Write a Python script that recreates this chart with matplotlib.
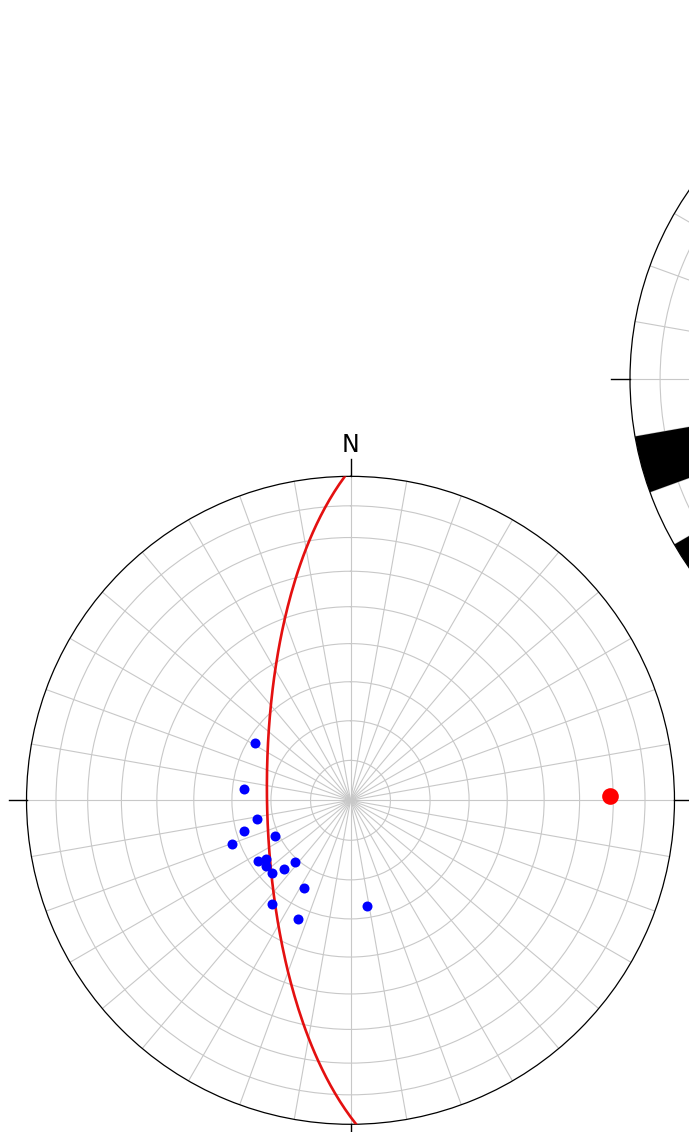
import numpy as np
import matplotlib
matplotlib.use('Agg')
import matplotlib.pyplot as plt

# poles (trend, plunge in degrees)
pole_trend = [301, 276, 259, 254, 250, 245, 237, 235, 232, 227, 224, 222, 208, 217, 204, 171]
pole_plunge = [62, 63, 66, 62, 58, 69, 62, 64, 63, 63, 66, 69, 65, 57, 57, 63]

# best-fit plane (dip direction / dip) and its pole
plane_dipdir = 269
plane_dip = 69
fit_pole_trend = [89]
fit_pole_plunge = [21]

# rose diagram: 10 degree bins (start azimuth) and counts
rose_bins = [170, 200, 210, 220, 230, 240, 250, 270, 300]
rose_counts = [1, 2, 1, 3, 3, 1, 3, 1, 1]

grid_col = '#c8c8c8'


def eq_area(plunge):
    # radial distance of a line in a lower-hemisphere equal-area net (unit radius)
    return np.sqrt(2) * np.sin(np.radians(90 - np.asarray(plunge, dtype=float)) / 2)


fig = plt.figure(figsize=(6.89, 11.32), dpi=100)

# ---- stereonet ----
ax = fig.add_axes([0.03846, 0.0068, 0.9405, 0.5724], projection='polar')
ax.set_theta_zero_location('N')
ax.set_theta_direction(-1)
ax.set_ylim(0, 1)
ax.set_xticks(np.radians(np.arange(0, 360, 10)))
ax.set_xticklabels([])
ax.set_yticks(eq_area(np.arange(80, 0, -10)))
ax.set_yticklabels([])
ax.tick_params(length=0)
ax.grid(True, color=grid_col, lw=0.8)
ax.spines['polar'].set_color('black')
ax.spines['polar'].set_linewidth(0.9)

az = np.arange(plane_dipdir - 90, plane_dipdir + 90.5, 1.0)
gc_plunge = np.degrees(np.arctan(np.tan(np.radians(plane_dip)) * np.cos(np.radians(az - plane_dipdir))))
ax.plot(np.radians(az), eq_area(gc_plunge), color='#e41010', lw=1.9, zorder=3)

ax.plot(np.radians(pole_trend), eq_area(pole_plunge), 'o', color='#0000ff',
        ms=7.2, mec='none', zorder=4)
ax.plot(np.radians(fit_pole_trend), eq_area(fit_pole_plunge), 'o', color='#ff0000',
        ms=12, mec='none', zorder=4)

for th in [0, 90, 180, 270]:
    ax.plot([np.radians(th)] * 2, [1, 1.053], color='black', lw=1, clip_on=False)
ax.text(0.5, 1.0375, 'N', transform=ax.transAxes, ha='center', va='baseline', fontsize=17)

# ---- rose diagram (only partly inside the figure) ----
ax2 = fig.add_axes([0.91437, 0.37279, 0.96081, 0.58481], projection='polar')
ax2.set_theta_zero_location('N')
ax2.set_theta_direction(-1)
rmax = max(rose_counts)
ax2.bar(np.radians(rose_bins), rose_counts, width=np.radians(10), align='edge',
        color='black', edgecolor='none', zorder=2)
ax2.set_ylim(0, rmax)
ax2.set_xticks(np.radians(np.arange(0, 360, 10)))
ax2.set_xticklabels([])
ax2.set_yticks(np.linspace(0, rmax, 12)[1:-1])
ax2.set_yticklabels([])
ax2.tick_params(length=0)
ax2.set_axisbelow(True)
ax2.grid(True, color=grid_col, lw=0.8)
ax2.spines['polar'].set_color('black')
ax2.spines['polar'].set_linewidth(0.9)
for th in [0, 90, 180, 270]:
    ax2.plot([np.radians(th)] * 2, [rmax, rmax * 1.057], color='black', lw=1, clip_on=False)

plt.savefig('out.png', dpi=100)
